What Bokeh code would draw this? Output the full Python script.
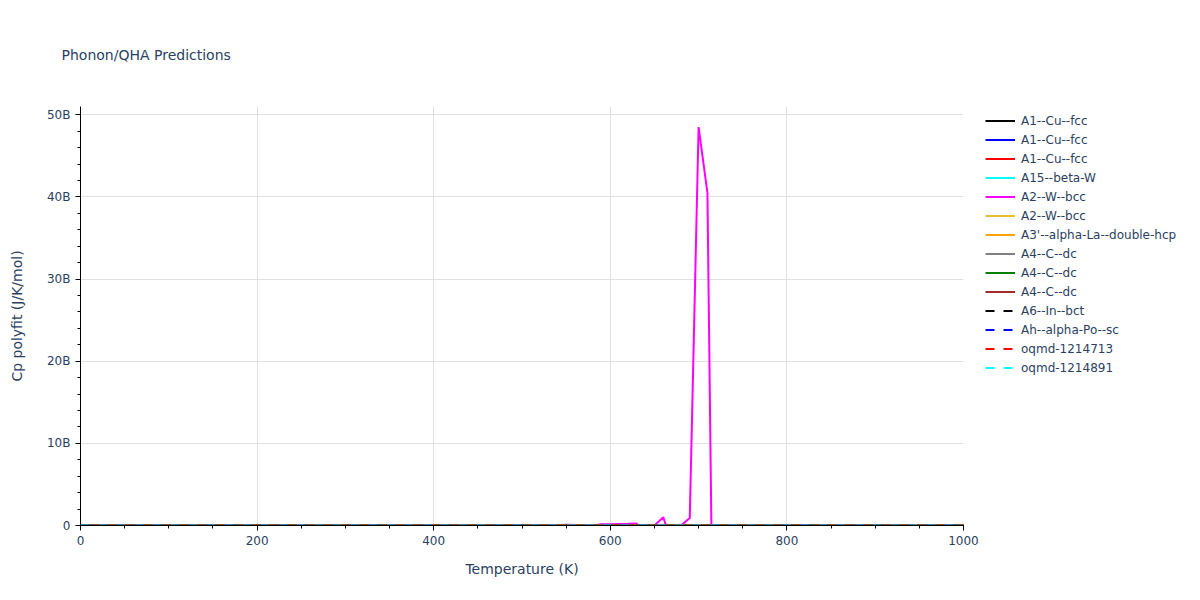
from bokeh.plotting import figure
from bokeh.models import Legend, LegendItem, SingleIntervalTicker, CustomJSTickFormatter, Range1d
from bokeh.embed import file_html
from bokeh.resources import INLINE

# Temperature grid (K)
temperature = list(range(0, 1001, 10))

# Flat series (values read as ~0 at the 1e9 scale)
flat_cp = [0.0] * len(temperature)

# A2--W--bcc (magenta) Cp polyfit values in J/K/mol (units of 1e9)
a2_w_bcc_magenta_B = (
    [0.0] * 55 +                      # 0..540 K
    [0.1, 0.05, 0.0, 0.0,             # 550..580
     0.15, 0.15, 0.18, 0.2, 0.23,     # 590..630
     -1.0, 0.0, 1.0, -2.3, 0.0,       # 640..680
     0.9, 48.5, 40.5, -50.0] +        # 690..720
    [0.0] * 28                        # 730..1000
)
a2_w_bcc_magenta = [v * 1e9 for v in a2_w_bcc_magenta_B]

series_names = ["A1--Cu--fcc", "A1--Cu--fcc", "A1--Cu--fcc", "A15--beta-W", "A2--W--bcc",
                "A2--W--bcc", "A3'--alpha-La--double-hcp", "A4--C--dc", "A4--C--dc", "A4--C--dc",
                "A6--In--bct", "Ah--alpha-Po--sc", "oqmd-1214713", "oqmd-1214891"]
series_colors = ["black", "blue", "red", "cyan", "magenta", "#e6c229", "orange", "gray",
                 "green", "brown", "black", "blue", "red", "cyan"]
series_dash = ["solid"] * 10 + ["dashed"] * 4
series_values = [flat_cp, flat_cp, flat_cp, flat_cp, a2_w_bcc_magenta, flat_cp, flat_cp,
                 flat_cp, flat_cp, flat_cp, flat_cp, flat_cp, flat_cp, flat_cp]

TXT = "#2a3f5f"
FONT = "DejaVu Sans"

p = figure(frame_width=883, frame_height=419, output_backend="svg", toolbar_location=None,
           x_range=Range1d(0, 1000), y_range=Range1d(0, 51.0e9),
           min_border_left=80, min_border_right=0, min_border_top=100, min_border_bottom=73)

p.title.text = "Phonon/QHA Predictions"
p.title.text_font = FONT
p.title.text_font_size = "14px"
p.title.text_font_style = "normal"
p.title.text_color = TXT
p.title.align = "left"
p.title.offset = -19
p.title.text_line_height = 0.6
p.title.standoff = 88

p.outline_line_color = None
p.background_fill_color = "white"

items = []
for name, col, dash, vals in zip(series_names, series_colors, series_dash, series_values):
    r = p.line(temperature, vals, line_color=col, line_width=2,
               line_dash="9 9" if dash == "dashed" else "solid")
    items.append(LegendItem(label=name, renderers=[r]))

legend = Legend(items=items, location=(22, 148), orientation="vertical",
                padding=0, margin=0, spacing=0, label_height=19, glyph_height=19,
                glyph_width=30, label_standoff=6, border_line_color=None,
                background_fill_alpha=0, label_text_font=FONT, label_text_font_size="12px",
                label_text_color=TXT)
p.add_layout(legend, "right")

for ax in (p.xaxis[0], p.yaxis[0]):
    ax.axis_line_color = "black"
    ax.axis_line_width = 1
    ax.major_tick_line_color = "black"
    ax.minor_tick_line_color = "black"
    ax.major_tick_out = 5
    ax.major_tick_in = 0
    ax.minor_tick_out = 3
    ax.minor_tick_in = 0
    ax.major_label_text_font = FONT
    ax.major_label_text_font_size = "12px"
    ax.major_label_text_color = TXT
    ax.axis_label_text_font = FONT
    ax.axis_label_text_font_size = "14px"
    ax.axis_label_text_font_style = "normal"
    ax.axis_label_text_color = TXT

p.xaxis.axis_label = "Temperature (K)"
p.yaxis.axis_label = "Cp polyfit (J/K/mol)"
p.xaxis.ticker = SingleIntervalTicker(interval=200, num_minor_ticks=4)
p.yaxis.ticker = SingleIntervalTicker(interval=10e9, num_minor_ticks=5)
p.yaxis.formatter = CustomJSTickFormatter(code="return tick == 0 ? '0' : Math.round(tick/1e9) + 'B';")
p.xaxis.axis_label_standoff = 13
p.yaxis.axis_label_standoff = 19

p.xgrid.grid_line_color = "#e0e0e0"
p.ygrid.grid_line_color = "#e0e0e0"

open("out.html", "w").write(file_html(p, INLINE))
